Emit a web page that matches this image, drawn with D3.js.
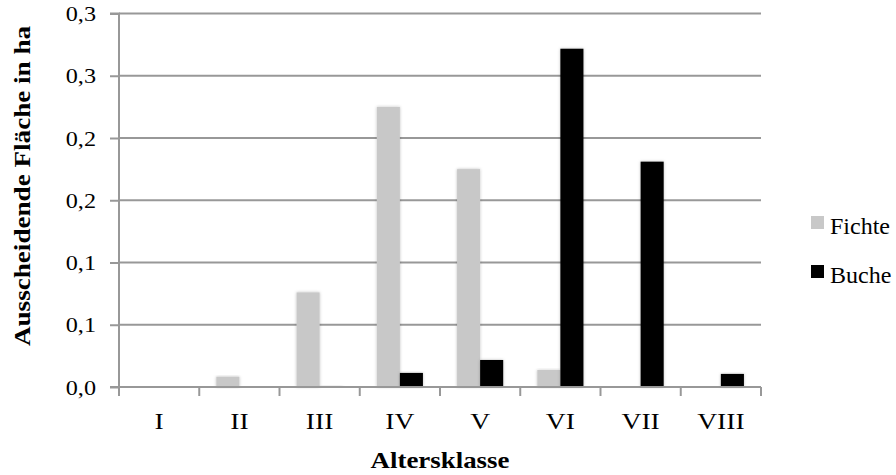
<!DOCTYPE html>
<html>
<head>
<meta charset="utf-8">
<script src="https://cdn.jsdelivr.net/npm/d3@7"></script>
<style>
  html, body { margin: 0; padding: 0; background: #fff; }
  svg { display: block; }
  text { font-family: "Liberation Serif", "DejaVu Serif", serif; fill: #000; }
</style>
</head>
<body>
<div id="chart"></div>
<script>
// Age classes and the area (ha) leaving the stand per tree species
const categories = ["I", "II", "III", "IV", "V", "VI", "VII", "VIII"];
const fichte = [0, 0.0083, 0.076, 0.225, 0.175, 0.0137, 0.0005, 0];
const buche  = [0, 0.0005, 0.0008, 0.0113, 0.0217, 0.2717, 0.181, 0.0105];
const seriesNames = ["Fichte", "Buche"];
const seriesColors = ["#c8c8c8", "#000000"];
const yTickValues = [0, 0.05, 0.1, 0.15, 0.2, 0.25, 0.3];
const yTickLabels = ["0,0", "0,1", "0,1", "0,2", "0,2", "0,3", "0,3"];
const xTitle = "Altersklasse";
const yTitle = "Ausscheidende Fläche in ha";

const W = 896, H = 475;
const plot = { left: 119, right: 761, top: 13.5, bottom: 387 };
const axisColor = "#989898";

// widen text a little: the serif face used is narrower than the intended one
function widen(sel, factor) {
  sel.each(function () {
    const w = this.getComputedTextLength();
    d3.select(this).attr("textLength", w * factor).attr("lengthAdjust", "spacingAndGlyphs");
  });
}

const svg = d3.select("#chart").append("svg")
  .attr("width", W).attr("height", H);

const defs = svg.append("defs");
const shadow = defs.append("filter").attr("id", "barShadow")
  .attr("x", "-30%").attr("y", "-10%").attr("width", "160%").attr("height", "120%");
shadow.append("feDropShadow")
  .attr("dx", 0).attr("dy", 0).attr("stdDeviation", 1.6)
  .attr("flood-color", "#000").attr("flood-opacity", 0.25);

const x = d3.scaleBand().domain(categories)
  .range([plot.left, plot.right]).paddingInner(0).paddingOuter(0);
// two adjacent bars centred in each age class
const xSub = d3.scaleBand().domain(seriesNames)
  .range([0, x.bandwidth()]).paddingInner(0).paddingOuter(0.74);
const y = d3.scaleLinear().domain([0, 0.3]).range([plot.bottom, plot.top]);

// horizontal gridlines
svg.append("g").selectAll("line")
  .data(yTickValues.slice(1))
  .join("line")
  .attr("x1", plot.left).attr("x2", plot.right)
  .attr("y1", d => y(d)).attr("y2", d => y(d))
  .attr("stroke", axisColor).attr("stroke-width", 2);

// bars
const rows = categories.map((c, i) => ({ cat: c, values: [fichte[i], buche[i]] }));
const groups = svg.append("g").selectAll("g")
  .data(rows).join("g")
  .attr("transform", d => `translate(${x(d.cat)},0)`);
groups.selectAll("rect")
  .data(d => d.values.map((v, j) => ({ name: seriesNames[j], v, j })))
  .join("rect")
  .attr("x", d => xSub(d.name))
  .attr("width", xSub.bandwidth())
  .attr("y", d => y(d.v))
  .attr("height", d => Math.max(0, y(0) - y(d.v)))
  .attr("fill", d => seriesColors[d.j])
  .attr("filter", "url(#barShadow)");

// y axis
const yAxis = d3.axisLeft(y).tickValues(yTickValues)
  .tickFormat((d, i) => yTickLabels[i]).tickSize(9).tickPadding(14);
const yg = svg.append("g").attr("transform", `translate(${plot.left},0)`).call(yAxis);
yg.select(".domain").attr("stroke", axisColor).attr("stroke-width", 2)
  .attr("d", `M-9,${plot.top}H0V${plot.bottom}H-9`);
yg.selectAll(".tick line").attr("stroke", axisColor).attr("stroke-width", 2);
yg.selectAll(".tick text").style("font-size", "22px")
  .style("font-family", "'Liberation Serif', serif").attr("fill", "#000")
  .call(widen, 1.1);

// x axis
const xAxis = d3.axisBottom(x).tickSize(0).tickPadding(0);
const xg = svg.append("g").attr("transform", `translate(0,${plot.bottom})`).call(xAxis);
xg.select(".domain").attr("stroke", axisColor).attr("stroke-width", 2)
  .attr("d", `M${plot.left},0H${plot.right}`);
xg.selectAll(".tick text").attr("dy", null).attr("y", 42)
  .style("font-size", "24px").style("font-family", "'Liberation Serif', serif").attr("fill", "#000")
  .call(widen, 1.15);
// boundary ticks between age classes
const boundaries = categories.map(c => x(c)).concat([plot.right]);
xg.append("g").selectAll("line").data(boundaries).join("line")
  .attr("x1", d => d).attr("x2", d => d).attr("y1", 0).attr("y2", 9)
  .attr("stroke", axisColor).attr("stroke-width", 2);

// axis titles
svg.append("text")
  .attr("x", (plot.left + plot.right) / 2).attr("y", 468)
  .attr("text-anchor", "middle")
  .style("font-size", "24px").style("font-weight", "bold")
  .text(xTitle)
  .call(widen, 1.12);
svg.append("text")
  .attr("transform", `translate(30,186) rotate(-90)`)
  .attr("text-anchor", "middle")
  .style("font-size", "24px").style("font-weight", "bold")
  .text(yTitle)
  .call(widen, 1.13);

// legend
const legend = svg.append("g").selectAll("g")
  .data(seriesNames).join("g")
  .attr("transform", (d, i) => `translate(811,${216 + i * 49})`);
legend.append("rect").attr("width", 13).attr("height", 13)
  .attr("fill", (d, i) => seriesColors[i]);
legend.append("text").attr("x", 19).attr("y", 18)
  .style("font-size", "24px").text(d => d);
</script>
</body>
</html>
